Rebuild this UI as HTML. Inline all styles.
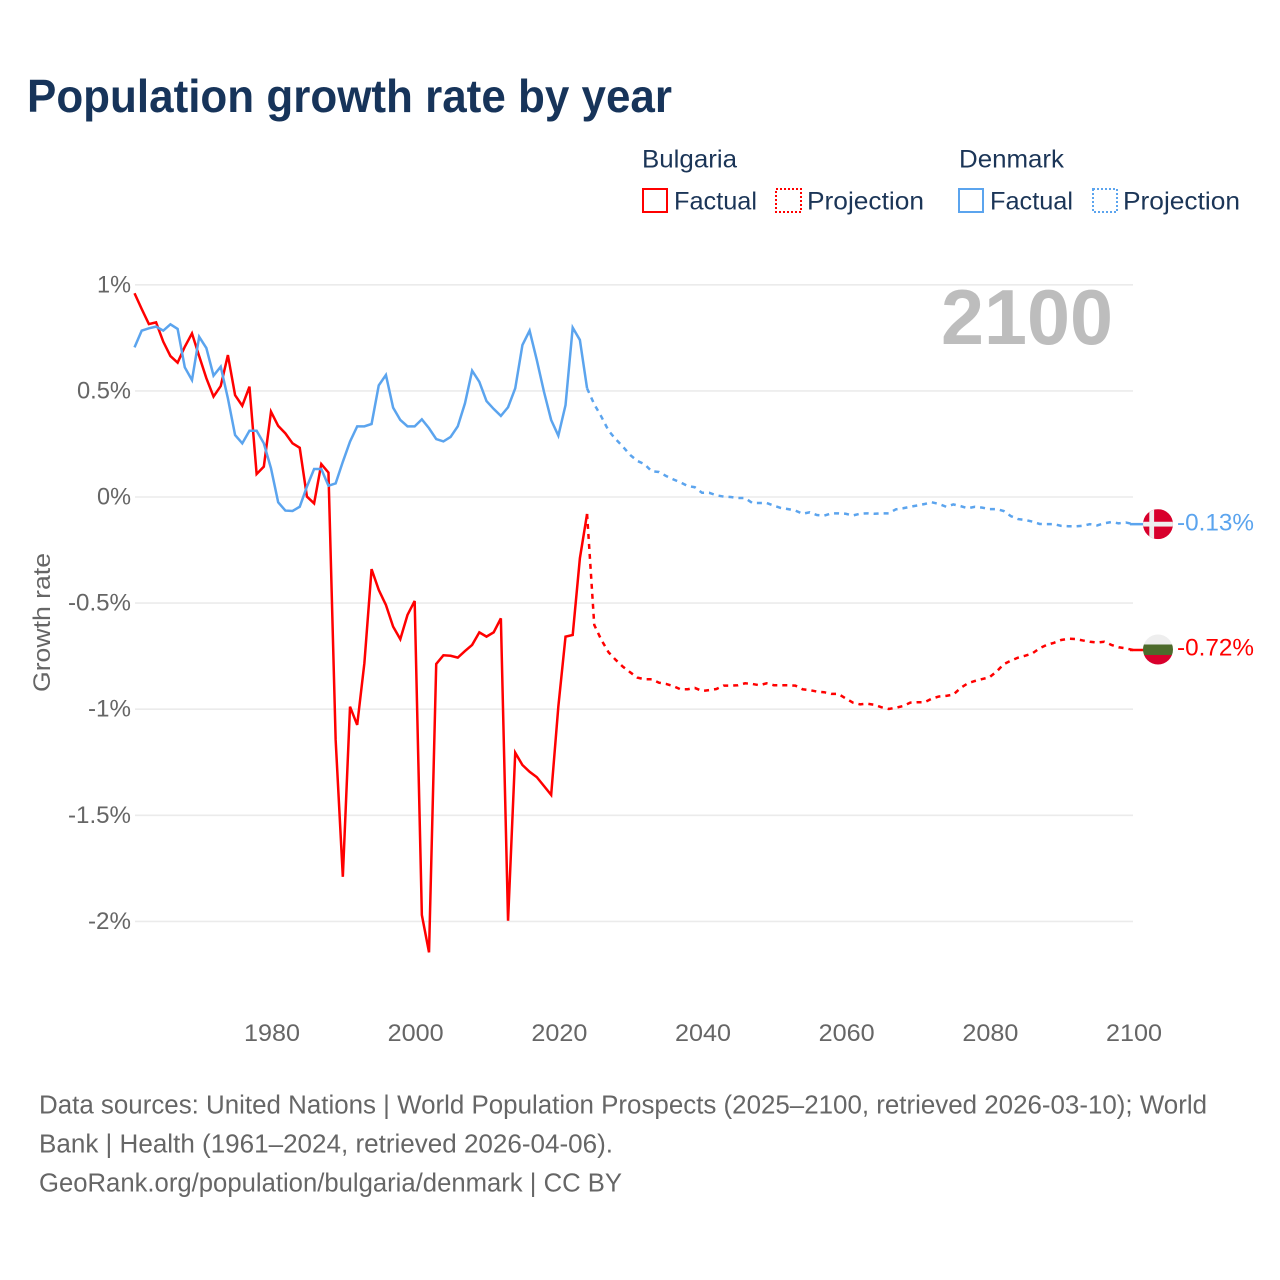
<!DOCTYPE html>
<html lang="en">
<head>
<meta charset="utf-8">
<title>Population growth rate by year</title>
<style>
html,body{margin:0;padding:0;background:#fff;width:1280px;height:1280px;overflow:hidden}
svg{display:block}
text{font-family:"Liberation Sans",sans-serif}
</style>
</head>
<body>
<svg id="chart" xmlns="http://www.w3.org/2000/svg" width="1280" height="1280" viewBox="0 0 1280 1280">
  <defs>
    <clipPath id="flag-clip"><circle cx="0" cy="0" r="15"></circle></clipPath>
  </defs>
  <rect x="0" y="0" width="1280" height="1280" fill="#ffffff"></rect>
  <text x="27" y="112" font-size="46" font-weight="700" fill="#17345a" textLength="645" lengthAdjust="spacingAndGlyphs">Population growth rate by year</text>

  <g font-size="25" fill="#1b3557">
    <text x="642" y="167.5" textLength="95" lengthAdjust="spacingAndGlyphs">Bulgaria</text>
    <rect x="643" y="189" width="24" height="23" fill="none" stroke="#ff0000" stroke-width="2"></rect>
    <text x="674" y="209.5" textLength="83" lengthAdjust="spacingAndGlyphs">Factual</text>
    <rect x="776" y="189" width="25" height="23" fill="none" stroke="#ff0000" stroke-width="2" stroke-dasharray="2 2"></rect>
    <text x="807" y="209.5" textLength="117" lengthAdjust="spacingAndGlyphs">Projection</text>
    <text x="959" y="167.5" textLength="105" lengthAdjust="spacingAndGlyphs">Denmark</text>
    <rect x="959" y="189" width="24" height="23" fill="none" stroke="#5ba4ee" stroke-width="2"></rect>
    <text x="990" y="209.5" textLength="83" lengthAdjust="spacingAndGlyphs">Factual</text>
    <rect x="1093" y="189" width="24" height="23" fill="none" stroke="#5ba4ee" stroke-width="2" stroke-dasharray="2 2"></rect>
    <text x="1123" y="209.5" textLength="117" lengthAdjust="spacingAndGlyphs">Projection</text>
  </g>

  <g id="grid"></g>
  <g id="y-labels"></g>
  <g id="x-labels"></g>
  <text transform="translate(50,692) rotate(-90)" x="0" y="0" font-size="24" fill="#666666" textLength="139" lengthAdjust="spacingAndGlyphs">Growth rate</text>
  <text x="941" y="344" font-size="78" font-weight="700" fill="#bdbdbd" textLength="172" lengthAdjust="spacingAndGlyphs">2100</text>
  <g id="series"></g>
  <g id="ends"></g>

  <g font-size="25.5" fill="#666666">
    <text x="39" y="1113.5" textLength="1168" lengthAdjust="spacingAndGlyphs">Data sources: United Nations | World Population Prospects (2025–2100, retrieved 2026-03-10); World</text>
    <text x="39" y="1152.5" textLength="574" lengthAdjust="spacingAndGlyphs">Bank | Health (1961–2024, retrieved 2026-04-06).</text>
    <text x="39" y="1191.5" textLength="583" lengthAdjust="spacingAndGlyphs">GeoRank.org/population/bulgaria/denmark | CC BY</text>
  </g>
</svg>

<script>
const xTicks = [1980, 2000, 2020, 2040, 2060, 2080, 2100];
const yTicks = [1, 0.5, 0, -0.5, -1, -1.5, -2];
const yTickLabels = ['1%', '0.5%', '0%', '-0.5%', '-1%', '-1.5%', '-2%'];

const factualStartYear = 1961;
const projectionStartYear = 2024;

const bulgariaFactual = [
  0.96, 0.886, 0.815, 0.823, 0.732, 0.664, 0.633, 0.708, 0.771, 0.664,
  0.56, 0.473, 0.523, 0.669, 0.48, 0.43, 0.52, 0.108, 0.143, 0.402,
  0.335, 0.30, 0.253, 0.232, 0.002, -0.03, 0.155, 0.115, -1.145, -1.79,
  -0.988, -1.074, -0.783, -0.34, -0.438, -0.509, -0.611, -0.67, -0.556, -0.49,
  -1.97, -2.146, -0.787, -0.746, -0.748, -0.757, -0.726, -0.697, -0.638, -0.658,
  -0.638, -0.572, -1.997, -1.205, -1.263, -1.295, -1.32, -1.362, -1.404, -0.988,
  -0.658, -0.65, -0.289, -0.08
];

const bulgariaProjection = [
  -0.08, -0.603, -0.674, -0.732, -0.768, -0.8, -0.826, -0.851, -0.859, -0.859,
  -0.875, -0.881, -0.891, -0.906, -0.906, -0.9, -0.914, -0.91, -0.905, -0.889,
  -0.889, -0.887, -0.878, -0.881, -0.887, -0.878, -0.887, -0.887, -0.887, -0.889,
  -0.906, -0.91, -0.917, -0.92, -0.928, -0.928, -0.949, -0.969, -0.977, -0.974,
  -0.979, -0.991, -0.999, -0.993, -0.985, -0.969, -0.967, -0.967, -0.95, -0.94,
  -0.937, -0.931, -0.9, -0.878, -0.867, -0.858, -0.85, -0.823, -0.788, -0.771,
  -0.757, -0.748, -0.737, -0.713, -0.697, -0.687, -0.674, -0.668, -0.669, -0.676,
  -0.682, -0.686, -0.682, -0.697, -0.708, -0.713, -0.721
];

const denmarkFactual = [
  0.705, 0.784, 0.795, 0.803, 0.784, 0.814, 0.792, 0.611, 0.551, 0.755,
  0.702, 0.572, 0.614, 0.465, 0.292, 0.253, 0.312, 0.312, 0.253, 0.135,
  -0.025, -0.064, -0.066, -0.046, 0.049, 0.132, 0.132, 0.053, 0.064, 0.166,
  0.261, 0.333, 0.333, 0.344, 0.526, 0.575, 0.421, 0.363, 0.333, 0.333,
  0.366, 0.324, 0.273, 0.262, 0.283, 0.333, 0.441, 0.595, 0.543, 0.452,
  0.415, 0.382, 0.423, 0.512, 0.716, 0.784, 0.646, 0.496, 0.363, 0.289,
  0.433, 0.798, 0.74, 0.512
];

const denmarkProjection = [
  0.512, 0.437, 0.378, 0.312, 0.272, 0.237, 0.198, 0.17, 0.155, 0.121,
  0.118, 0.099, 0.083, 0.069, 0.052, 0.046, 0.02, 0.02, 0.008, 0.002,
  0, -0.005, -0.005, -0.028, -0.028, -0.028, -0.041, -0.052, -0.057, -0.064,
  -0.079, -0.072, -0.085, -0.088, -0.077, -0.077, -0.079, -0.087, -0.079, -0.077,
  -0.079, -0.077, -0.077, -0.058, -0.053, -0.046, -0.04, -0.033, -0.025, -0.033,
  -0.046, -0.035, -0.043, -0.053, -0.046, -0.05, -0.057, -0.057, -0.066, -0.09,
  -0.104, -0.108, -0.116, -0.127, -0.128, -0.128, -0.136, -0.138, -0.138, -0.136,
  -0.128, -0.134, -0.124, -0.118, -0.124, -0.12, -0.128
];

const NS = 'http://www.w3.org/2000/svg';
const RED = '#ff0000';
const BLUE = '#5ba4ee';

function xScale(year) { return 271 + (year - 1980) * 7.1833; }
function yScale(v) { return 497 - v * 212.2; }

function mk(tag, attrs, parent) {
  const el = document.createElementNS(NS, tag);
  for (const k in attrs) el.setAttribute(k, attrs[k]);
  parent.appendChild(el);
  return el;
}

function labelWidth(s) {
  let w = 0;
  for (const c of s) {
    if (c === '%') w += 20;
    else if (c === '.') w += 6;
    else if (c === '-') w += 9;
    else w += 14;
  }
  return w;
}

const grid = document.getElementById('grid');
const yLabels = document.getElementById('y-labels');
const xLabels = document.getElementById('x-labels');
const seriesLayer = document.getElementById('series');
const endsLayer = document.getElementById('ends');

yTicks.forEach(function (t, i) {
  const line = mk('line', { x1: 135, x2: 1133, y1: yScale(t), y2: yScale(t), stroke: '#ebebeb', 'stroke-width': 1.6 }, grid);
  
  
  const label = yTickLabels[i];
  const w = labelWidth(label);
  const txt = mk('text', { x: 131 - w, y: yScale(t) + 7.5, 'font-size': 24, fill: '#666666', textLength: w, lengthAdjust: 'spacingAndGlyphs' }, yLabels);
  txt.textContent = label;
  
  
});

xTicks.forEach(function (t) {
  const txt = mk('text', { x: xScale(t) - 27, y: 1041, 'font-size': 24, fill: '#666666', textLength: 56, lengthAdjust: 'spacingAndGlyphs' }, xLabels);
  txt.textContent = String(t);
  
  
});

function pathFrom(values, startYear) {
  return values.map(function (v, i) {
    return (i ? 'L' : 'M') + xScale(startYear + i).toFixed(2) + ' ' + yScale(v).toFixed(2);
  }).join(' ');
}

function drawLine(values, startYear, color, dashed) {
  const attrs = { d: pathFrom(values, startYear), fill: 'none', stroke: color, 'stroke-width': 2.5, 'stroke-linejoin': 'miter' };
  if (dashed) attrs['stroke-dasharray'] = '5 5';
  return mk('path', attrs, seriesLayer);
}

const bulgariaProjLine = drawLine(bulgariaProjection, projectionStartYear, RED, true);



const bulgariaFactLine = drawLine(bulgariaFactual, factualStartYear, RED, false);



const denmarkProjLine = drawLine(denmarkProjection, projectionStartYear, BLUE, true);



const denmarkFactLine = drawLine(denmarkFactual, factualStartYear, BLUE, false);



function endLabelText(v) { return v.toFixed(2) + '%'; }

/* Denmark end marker */
const dkLast = denmarkProjection[denmarkProjection.length - 1];
const dkY = yScale(dkLast);
const dkStub = mk('line', { x1: xScale(2100) - 3, x2: 1144, y1: dkY, y2: dkY, stroke: BLUE, 'stroke-width': 2.5 }, endsLayer);


const dkFlag = mk('g', { transform: 'translate(1158,' + dkY + ')', 'clip-path': 'url(#flag-clip)' }, endsLayer);


mk('rect', { x: -15, y: -15, width: 30, height: 30, fill: '#d8002c' }, dkFlag);
mk('rect', { x: -8.7, y: -15, width: 4.8, height: 30, fill: '#eeeeee' }, dkFlag);
mk('rect', { x: -15, y: -2.4, width: 30, height: 4.8, fill: '#eeeeee' }, dkFlag);
const dkLabel = mk('text', { x: 1177, y: dkY + 6.5, 'font-size': 24, fill: BLUE, textLength: 77, lengthAdjust: 'spacingAndGlyphs' }, endsLayer);
dkLabel.textContent = endLabelText(dkLast);



/* Bulgaria end marker */
const bgLast = bulgariaProjection[bulgariaProjection.length - 1];
const bgY = yScale(bgLast);
const bgStub = mk('line', { x1: xScale(2100) - 3, x2: 1144, y1: bgY, y2: bgY, stroke: RED, 'stroke-width': 2.5 }, endsLayer);


const bgFlag = mk('g', { transform: 'translate(1158,' + (bgY - 0.5) + ')', 'clip-path': 'url(#flag-clip)' }, endsLayer);


mk('rect', { x: -15, y: -15, width: 30, height: 10, fill: '#eeeeee' }, bgFlag);
mk('rect', { x: -15, y: -5, width: 30, height: 10.5, fill: '#4d6b2c' }, bgFlag);
mk('rect', { x: -15, y: 5.5, width: 30, height: 10, fill: '#d8002c' }, bgFlag);
const bgLabel = mk('text', { x: 1177, y: bgY + 5.5, 'font-size': 24, fill: RED, textLength: 77, lengthAdjust: 'spacingAndGlyphs' }, endsLayer);
bgLabel.textContent = endLabelText(bgLast);


</script>
</body>
</html>
